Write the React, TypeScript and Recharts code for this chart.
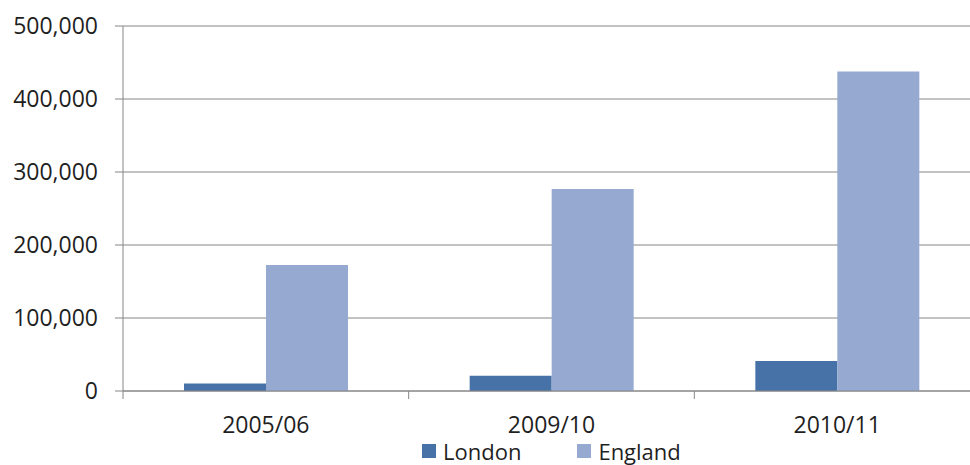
import React from "react";
import { BarChart, Bar, XAxis, YAxis, CartesianGrid, Legend } from "recharts";

const categories = ["2005/06", "2009/10", "2010/11"];
const london = [10200, 21000, 41000];
const england = [172500, 276700, 437800];
const yTicks = [0, 100000, 200000, 300000, 400000, 500000];
const seriesNames = ["London", "England"];
const seriesColors = ["#4672A8", "#95A9D1"];

const data = categories.map((c, i) => ({ year: c, London: london[i], England: england[i] }));

const CHART_W = 980;
const CHART_H = 465;
const LEFT = 123;
const BAND = (CHART_W - LEFT) / categories.length;
const FONT = "'Open Sans', sans-serif";
const GRID = "#868686";

const XTick = (props: any) => {
  const { x, y, payload, index } = props;
  return (
    <g>
      <line x1={x - BAND / 2} x2={x - BAND / 2} y1={y} y2={y + 8} stroke={GRID} />
      {index === categories.length - 1 && (
        <line x1={x + BAND / 2} x2={x + BAND / 2} y1={y} y2={y + 8} stroke={GRID} />
      )}
      <text x={x} y={y + 34} dy="0.35em" textAnchor="middle" fill="#1f1f1f" fontSize={23} fontFamily={FONT}>
        {payload.value}
      </text>
    </g>
  );
};

const LegendContent = () => (
  <div style={{ display: "flex", alignItems: "center", height: 30, paddingTop: 2, boxSizing: "border-box", paddingLeft: 422, fontFamily: FONT, fontSize: 22, color: "#1f1f1f" }}>
    {seriesNames.map((n, i) => (
      <div key={n} style={{ display: "flex", alignItems: "center", marginRight: 56 }}>
        <span style={{ width: 14, height: 14, background: seriesColors[i], display: "inline-block", marginRight: 7 }} />
        <span style={{ lineHeight: "26px" }}>{n}</span>
      </div>
    ))}
  </div>
);

export default function App() {
  return (
    <div style={{ position: "fixed", left: 0, top: 0, width: 970, height: 465, overflow: "hidden", background: "#fff" }}>
      <BarChart
        width={CHART_W}
        height={CHART_H}
        data={data}
        margin={{ top: 26, right: 0, bottom: 0, left: 0 }}
        barCategoryGap={61}
        barGap={0}
      >
        <CartesianGrid horizontal vertical={false} stroke={GRID} />
        <XAxis
          dataKey="year"
          height={44}
          tickLine={false}
          tickSize={0}
          tickMargin={0}
          axisLine={{ stroke: GRID }}
          tick={<XTick />}
          interval={0}
        />
        <YAxis
          width={LEFT}
          domain={[0, 500000]}
          ticks={yTicks}
          tickSize={8}
          tickMargin={17}
          tickLine={{ stroke: GRID }}
          axisLine={{ stroke: GRID }}
          tickFormatter={(v: number) => v.toLocaleString("en-US")}
          tick={{ fill: "#1f1f1f", fontSize: 23, fontFamily: FONT }}
        />
        <Legend verticalAlign="bottom" height={30} content={<LegendContent />} />
        <Bar dataKey="London" fill={seriesColors[0]} isAnimationActive={false} />
        <Bar dataKey="England" fill={seriesColors[1]} isAnimationActive={false} />
      </BarChart>
    </div>
  );
}
